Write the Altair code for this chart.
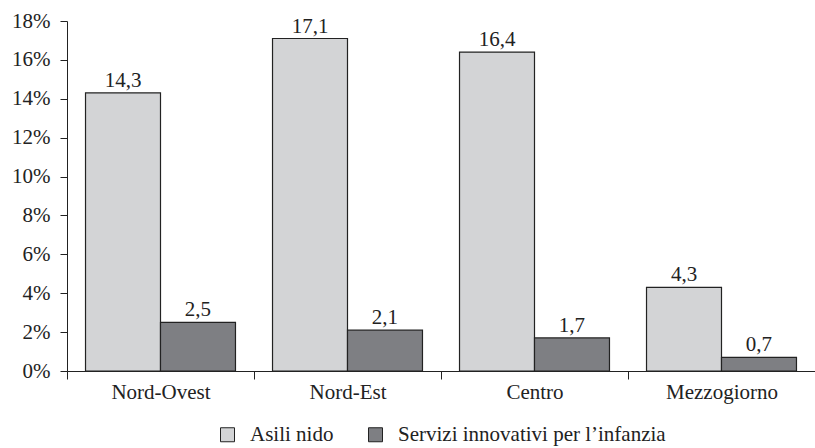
import altair as alt
import pandas as pd

# Regional coverage of early-childhood services (%)
aree = ["Nord-Ovest", "Nord-Est", "Centro", "Mezzogiorno"]
asili_nido = [14.3, 17.1, 16.4, 4.3]
servizi_innovativi = [2.5, 2.1, 1.7, 0.7]
serie = ["Asili nido", "Servizi innovativi per l\u2019infanzia"]
tick_y = list(range(0, 19, 2))

rows = []
for a, v1, v2 in zip(aree, asili_nido, servizi_innovativi):
    for s, v in zip(serie, (v1, v2)):
        rows.append({"area": a, "serie": s, "valore": v,
                     "etichetta": f"{v:.1f}".replace(".", ",")})
df = pd.DataFrame(rows)

FONT = "Liberation Serif"
INK = "#222222"
FS = 21

x_axis = alt.Axis(labelAngle=0, tickBand="extent", tickSize=8, labelPadding=2,
                  labelFont=FONT, labelFontSize=FS, labelColor=INK,
                  domainColor=INK, tickColor=INK, grid=False)
y_axis = alt.Axis(values=tick_y, labelExpr="datum.value + '%'",
                  tickSize=7, labelPadding=10, labelOverlap=False,
                  labelFont=FONT, labelFontSize=FS, labelColor=INK,
                  domainColor=INK, tickColor=INK, grid=False)

base = alt.Chart(df).encode(
    x=alt.X("area:N", sort=aree, title=None,
            scale=alt.Scale(paddingInner=0, paddingOuter=0), axis=x_axis),
    xOffset=alt.XOffset("serie:N", sort=serie,
                        scale=alt.Scale(paddingInner=0, paddingOuter=0.247)),
    y=alt.Y("valore:Q", title=None,
            scale=alt.Scale(domain=[0, 18], nice=False), axis=y_axis),
)

bars = base.mark_bar(stroke=INK, strokeWidth=1.2).encode(
    color=alt.Color("serie:N", sort=serie, title=None,
                    scale=alt.Scale(domain=serie, range=["#d3d4d6", "#7e7f83"]),
                    legend=alt.Legend(orient="none", legendX=150, legendY=403,
                                      direction="horizontal", padding=0,
                                      symbolType="square", symbolSize=196,
                                      symbolStrokeColor=INK, symbolStrokeWidth=1,
                                      labelFont=FONT, labelFontSize=21,
                                      labelColor=INK,
                                      labelLimit=0, columnPadding=31,
                                      labelOffset=12)),
)

labels = base.mark_text(baseline="alphabetic", dy=-6, font=FONT, fontSize=FS,
                        color=INK).encode(
    text="etichetta:N",
)

chart = (bars + labels).properties(
    width=748, height=350,
    background="white",
    autosize=alt.AutoSizeParams(type="none"),
    padding={"left": 67, "top": 21, "right": 0, "bottom": 77},
).configure_view(stroke=None)

chart.save("out.html", embed_options={"renderer": "svg", "actions": False})
